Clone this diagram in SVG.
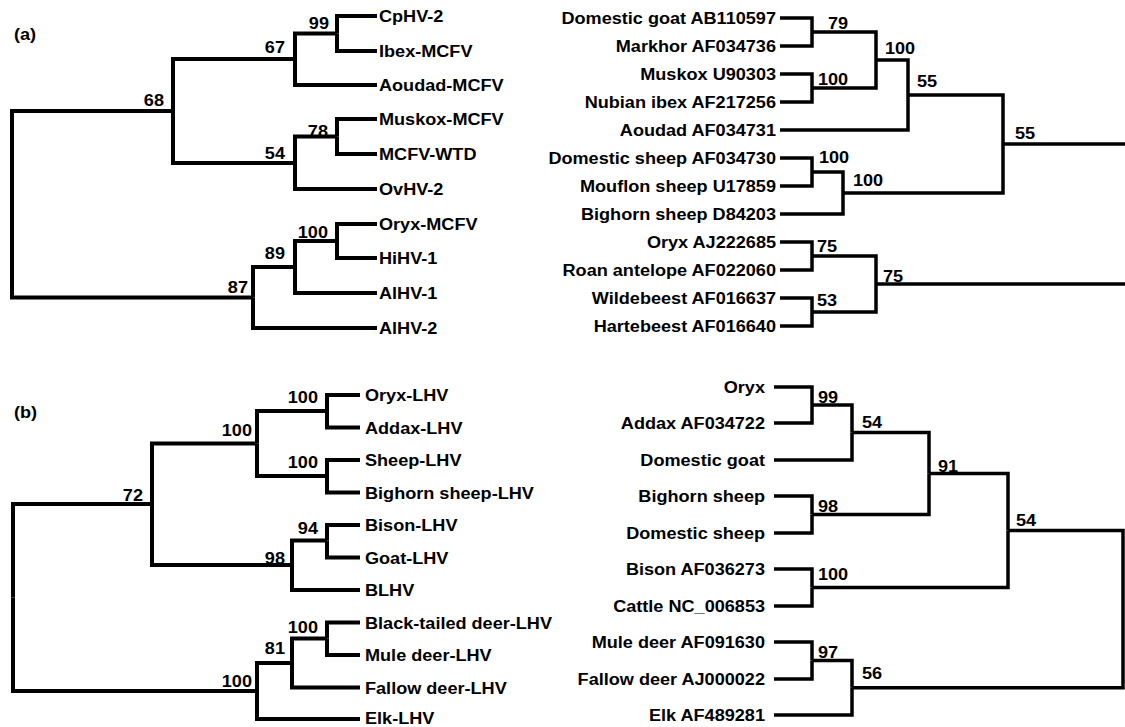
<svg xmlns="http://www.w3.org/2000/svg" width="1125" height="727" viewBox="0 0 1125 727">
<style>
.e{fill:none;stroke:#000;stroke-width:4;stroke-linejoin:miter;stroke-linecap:butt}
.e2{fill:none;stroke:#000;stroke-width:3.5;stroke-linejoin:miter;stroke-linecap:butt}
text{font-family:"Liberation Sans",Arial,Helvetica,sans-serif;font-weight:bold;font-size:17px;fill:#000}
.r{text-anchor:end}
</style>
<rect width="1125" height="727" fill="#fff"/>

<!-- panel labels -->
<g id="panel-a-label"><text transform="matrix(1.065 0 0 1 14 40)">(a)</text></g>
<g id="panel-b-label"><text transform="matrix(1.065 0 0 1 14 418)">(b)</text></g>

<!-- ============ connectors ============ -->
<g id="connectors">
  <!-- top-left tree -->
  <g class="e">
    <path d="M12 204 V111 H173"/>
    <path d="M12 204 V297.5 H253"/>
    <path d="M173 111 V59 H295"/>
    <path d="M173 111 V163 H295"/>
    <path d="M295 59 V33.5 H337"/>
    <path d="M295 59 V85 H377"/>
    <path d="M337 33.5 V16 H377"/>
    <path d="M337 33.5 V51 H377"/>
    <path d="M295 163 V136.5 H337"/>
    <path d="M295 163 V189 H377"/>
    <path d="M337 136.5 V119 H377"/>
    <path d="M337 136.5 V154 H377"/>
    <path d="M253 297.5 V267 H295"/>
    <path d="M253 297.5 V328 H377"/>
    <path d="M295 267 V241 H337"/>
    <path d="M295 267 V293 H377"/>
    <path d="M337 241 V224 H377"/>
    <path d="M337 241 V258 H377"/>
  </g>
  <!-- bottom-left tree -->
  <g class="e">
    <path d="M13 597.5 V504 H152"/>
    <path d="M13 597.5 V691 H257"/>
    <path d="M152 504 V443.5 H257"/>
    <path d="M152 504 V565 H292"/>
    <path d="M257 443.5 V411 H327"/>
    <path d="M257 443.5 V476 H327"/>
    <path d="M327 411 V395 H360"/>
    <path d="M327 411 V427.5 H360"/>
    <path d="M327 476 V460 H360"/>
    <path d="M327 476 V492.5 H360"/>
    <path d="M292 565 V540.5 H327"/>
    <path d="M292 565 V590 H360"/>
    <path d="M327 540.5 V525 H360"/>
    <path d="M327 540.5 V557.5 H360"/>
    <path d="M257 691 V663 H292"/>
    <path d="M257 691 V719 H360"/>
    <path d="M292 663 V638.5 H327"/>
    <path d="M292 663 V687.5 H360"/>
    <path d="M327 638.5 V622.5 H360"/>
    <path d="M327 638.5 V655 H360"/>
  </g>
  <!-- top-right tree -->
  <g class="e2">
    <path d="M812 32 V18 H780"/>
    <path d="M812 32 V46 H780"/>
    <path d="M812 88 V74 H780"/>
    <path d="M812 88 V102 H780"/>
    <path d="M876 60 V32 H812"/>
    <path d="M876 60 V88 H812"/>
    <path d="M908 95 V60 H876"/>
    <path d="M908 95 V130 H780"/>
    <path d="M812 172 V158 H780"/>
    <path d="M812 172 V186 H780"/>
    <path d="M843 193 V172 H812"/>
    <path d="M843 193 V214 H780"/>
    <path d="M1003 144 V95 H908"/>
    <path d="M1003 144 V193 H843"/>
    <path d="M1003 144 H1125"/>
    <path d="M812 256 V242 H780"/>
    <path d="M812 256 V270 H780"/>
    <path d="M812 312 V298 H780"/>
    <path d="M812 312 V326 H780"/>
    <path d="M876 284 V256 H812"/>
    <path d="M876 284 V312 H812"/>
    <path d="M876 284 H1125"/>
  </g>
  <!-- bottom-right tree -->
  <g class="e2">
    <path d="M812 405 V387 H774"/>
    <path d="M812 405 V423 H774"/>
    <path d="M852 432.5 V405 H812"/>
    <path d="M852 432.5 V460 H774"/>
    <path d="M812 514.5 V496 H774"/>
    <path d="M812 514.5 V533 H774"/>
    <path d="M929 473.5 V432.5 H852"/>
    <path d="M929 473.5 V514.5 H812"/>
    <path d="M812 587.5 V569 H774"/>
    <path d="M812 587.5 V606 H774"/>
    <path d="M1008 530.5 V473.5 H929"/>
    <path d="M1008 530.5 V587.5 H812"/>
    <path d="M812 660.5 V642 H774"/>
    <path d="M812 660.5 V679 H774"/>
    <path d="M852 687.75 V660.5 H812"/>
    <path d="M852 687.75 V715 H774"/>
    <path d="M1008 530.5 H1123 V687.75 H852"/>
  </g>
</g>

<!-- ============ top-left tree nodes ============ -->
<g id="a1-internal-99"><text class="r" transform="matrix(1.065 0 0 1 329 29)">99</text></g>
<g id="a1-internal-67"><text class="r" transform="matrix(1.065 0 0 1 285 53)">67</text></g>
<g id="a1-internal-78"><text class="r" transform="matrix(1.065 0 0 1 328 137)">78</text></g>
<g id="a1-internal-54"><text class="r" transform="matrix(1.065 0 0 1 285 159)">54</text></g>
<g id="a1-internal-68"><text class="r" transform="matrix(1.065 0 0 1 164 106)">68</text></g>
<g id="a1-internal-100"><text class="r" transform="matrix(1.065 0 0 1 328 238)">100</text></g>
<g id="a1-internal-89"><text class="r" transform="matrix(1.065 0 0 1 285 259)">89</text></g>
<g id="a1-internal-87"><text class="r" transform="matrix(1.065 0 0 1 248 293)">87</text></g>
<g id="a1-CpHV-2"><text transform="matrix(1.065 0 0 1 379 22)">CpHV-2</text></g>
<g id="a1-Ibex-MCFV"><text transform="matrix(1.065 0 0 1 379 57)">Ibex-MCFV</text></g>
<g id="a1-Aoudad-MCFV"><text transform="matrix(1.065 0 0 1 379 91)">Aoudad-MCFV</text></g>
<g id="a1-Muskox-MCFV"><text transform="matrix(1.065 0 0 1 379 125)">Muskox-MCFV</text></g>
<g id="a1-MCFV-WTD"><text transform="matrix(1.065 0 0 1 379 160)">MCFV-WTD</text></g>
<g id="a1-OvHV-2"><text transform="matrix(1.065 0 0 1 379 195)">OvHV-2</text></g>
<g id="a1-Oryx-MCFV"><text transform="matrix(1.065 0 0 1 379 230)">Oryx-MCFV</text></g>
<g id="a1-HiHV-1"><text transform="matrix(1.065 0 0 1 379 264)">HiHV-1</text></g>
<g id="a1-AlHV-1"><text transform="matrix(1.065 0 0 1 379 299)">AlHV-1</text></g>
<g id="a1-AlHV-2"><text transform="matrix(1.065 0 0 1 379 334)">AlHV-2</text></g>

<!-- ============ top-right tree nodes ============ -->
<g id="a2-internal-79"><text transform="matrix(1.065 0 0 1 828 29)">79</text></g>
<g id="a2-internal-100a"><text transform="matrix(1.065 0 0 1 818 85)">100</text></g>
<g id="a2-internal-100b"><text transform="matrix(1.065 0 0 1 885 54)">100</text></g>
<g id="a2-internal-55a"><text transform="matrix(1.065 0 0 1 917 87)">55</text></g>
<g id="a2-internal-100c"><text transform="matrix(1.065 0 0 1 819 163)">100</text></g>
<g id="a2-internal-100d"><text transform="matrix(1.065 0 0 1 853 186)">100</text></g>
<g id="a2-internal-55b"><text transform="matrix(1.065 0 0 1 1015 139)">55</text></g>
<g id="a2-internal-75a"><text transform="matrix(1.065 0 0 1 817 252)">75</text></g>
<g id="a2-internal-53"><text transform="matrix(1.065 0 0 1 817 306)">53</text></g>
<g id="a2-internal-75b"><text transform="matrix(1.065 0 0 1 883 282)">75</text></g>
<g id="a2-domestic-goat"><text class="r" transform="matrix(1.065 0 0 1 776 24)">Domestic goat AB110597</text></g>
<g id="a2-markhor"><text class="r" transform="matrix(1.065 0 0 1 776 52)">Markhor AF034736</text></g>
<g id="a2-muskox"><text class="r" transform="matrix(1.065 0 0 1 776 80)">Muskox U90303</text></g>
<g id="a2-nubian-ibex"><text class="r" transform="matrix(1.065 0 0 1 776 108)">Nubian ibex AF217256</text></g>
<g id="a2-aoudad"><text class="r" transform="matrix(1.065 0 0 1 776 136)">Aoudad AF034731</text></g>
<g id="a2-domestic-sheep"><text class="r" transform="matrix(1.065 0 0 1 776 164)">Domestic sheep AF034730</text></g>
<g id="a2-mouflon"><text class="r" transform="matrix(1.065 0 0 1 776 192)">Mouflon sheep U17859</text></g>
<g id="a2-bighorn"><text class="r" transform="matrix(1.065 0 0 1 776 220)">Bighorn sheep D84203</text></g>
<g id="a2-oryx"><text class="r" transform="matrix(1.065 0 0 1 776 248)">Oryx AJ222685</text></g>
<g id="a2-roan"><text class="r" transform="matrix(1.065 0 0 1 776 276)">Roan antelope AF022060</text></g>
<g id="a2-wildebeest"><text class="r" transform="matrix(1.065 0 0 1 776 304)">Wildebeest AF016637</text></g>
<g id="a2-hartebeest"><text class="r" transform="matrix(1.065 0 0 1 776 332)">Hartebeest AF016640</text></g>

<!-- ============ bottom-left tree nodes ============ -->
<g id="b1-internal-100a"><text class="r" transform="matrix(1.065 0 0 1 318 403)">100</text></g>
<g id="b1-internal-100b"><text class="r" transform="matrix(1.065 0 0 1 318 468)">100</text></g>
<g id="b1-internal-100c"><text class="r" transform="matrix(1.065 0 0 1 252 436)">100</text></g>
<g id="b1-internal-94"><text class="r" transform="matrix(1.065 0 0 1 318 534)">94</text></g>
<g id="b1-internal-98"><text class="r" transform="matrix(1.065 0 0 1 285 564)">98</text></g>
<g id="b1-internal-72"><text class="r" transform="matrix(1.065 0 0 1 143 501)">72</text></g>
<g id="b1-internal-100d"><text class="r" transform="matrix(1.065 0 0 1 318 633)">100</text></g>
<g id="b1-internal-81"><text class="r" transform="matrix(1.065 0 0 1 285 654)">81</text></g>
<g id="b1-internal-100e"><text class="r" transform="matrix(1.065 0 0 1 252 687)">100</text></g>
<g id="b1-oryx-lhv"><text transform="matrix(1.065 0 0 1 365 401)">Oryx-LHV</text></g>
<g id="b1-addax-lhv"><text transform="matrix(1.065 0 0 1 365 433.5)">Addax-LHV</text></g>
<g id="b1-sheep-lhv"><text transform="matrix(1.065 0 0 1 365 466)">Sheep-LHV</text></g>
<g id="b1-bighorn-lhv"><text transform="matrix(1.065 0 0 1 365 498.5)">Bighorn sheep-LHV</text></g>
<g id="b1-bison-lhv"><text transform="matrix(1.065 0 0 1 365 531)">Bison-LHV</text></g>
<g id="b1-goat-lhv"><text transform="matrix(1.065 0 0 1 365 563.5)">Goat-LHV</text></g>
<g id="b1-blhv"><text transform="matrix(1.065 0 0 1 365 596)">BLHV</text></g>
<g id="b1-blacktailed-lhv"><text transform="matrix(1.065 0 0 1 365 628.5)">Black-tailed deer-LHV</text></g>
<g id="b1-mule-lhv"><text transform="matrix(1.065 0 0 1 365 661)">Mule deer-LHV</text></g>
<g id="b1-fallow-lhv"><text transform="matrix(1.065 0 0 1 365 693.5)">Fallow deer-LHV</text></g>
<g id="b1-elk-lhv"><text transform="matrix(1.065 0 0 1 365 724)">Elk-LHV</text></g>

<!-- ============ bottom-right tree nodes ============ -->
<g id="b2-internal-99"><text transform="matrix(1.065 0 0 1 818 403)">99</text></g>
<g id="b2-internal-54a"><text transform="matrix(1.065 0 0 1 862 428)">54</text></g>
<g id="b2-internal-98"><text transform="matrix(1.065 0 0 1 818 512)">98</text></g>
<g id="b2-internal-91"><text transform="matrix(1.065 0 0 1 938 472)">91</text></g>
<g id="b2-internal-100"><text transform="matrix(1.065 0 0 1 818 580)">100</text></g>
<g id="b2-internal-54b"><text transform="matrix(1.065 0 0 1 1016 526)">54</text></g>
<g id="b2-internal-97"><text transform="matrix(1.065 0 0 1 818 658)">97</text></g>
<g id="b2-internal-56"><text transform="matrix(1.065 0 0 1 862 679)">56</text></g>
<g id="b2-oryx"><text class="r" transform="matrix(1.065 0 0 1 765 393)">Oryx</text></g>
<g id="b2-addax"><text class="r" transform="matrix(1.065 0 0 1 765 429)">Addax AF034722</text></g>
<g id="b2-domestic-goat"><text class="r" transform="matrix(1.065 0 0 1 765 466)">Domestic goat</text></g>
<g id="b2-bighorn-sheep"><text class="r" transform="matrix(1.065 0 0 1 765 502)">Bighorn sheep</text></g>
<g id="b2-domestic-sheep"><text class="r" transform="matrix(1.065 0 0 1 765 539)">Domestic sheep</text></g>
<g id="b2-bison"><text class="r" transform="matrix(1.065 0 0 1 765 575)">Bison AF036273</text></g>
<g id="b2-cattle"><text class="r" transform="matrix(1.065 0 0 1 765 612)">Cattle NC_006853</text></g>
<g id="b2-mule-deer"><text class="r" transform="matrix(1.065 0 0 1 765 648)">Mule deer AF091630</text></g>
<g id="b2-fallow-deer"><text class="r" transform="matrix(1.065 0 0 1 765 685)">Fallow deer AJ000022</text></g>
<g id="b2-elk"><text class="r" transform="matrix(1.065 0 0 1 765 721)">Elk AF489281</text></g>
</svg>
